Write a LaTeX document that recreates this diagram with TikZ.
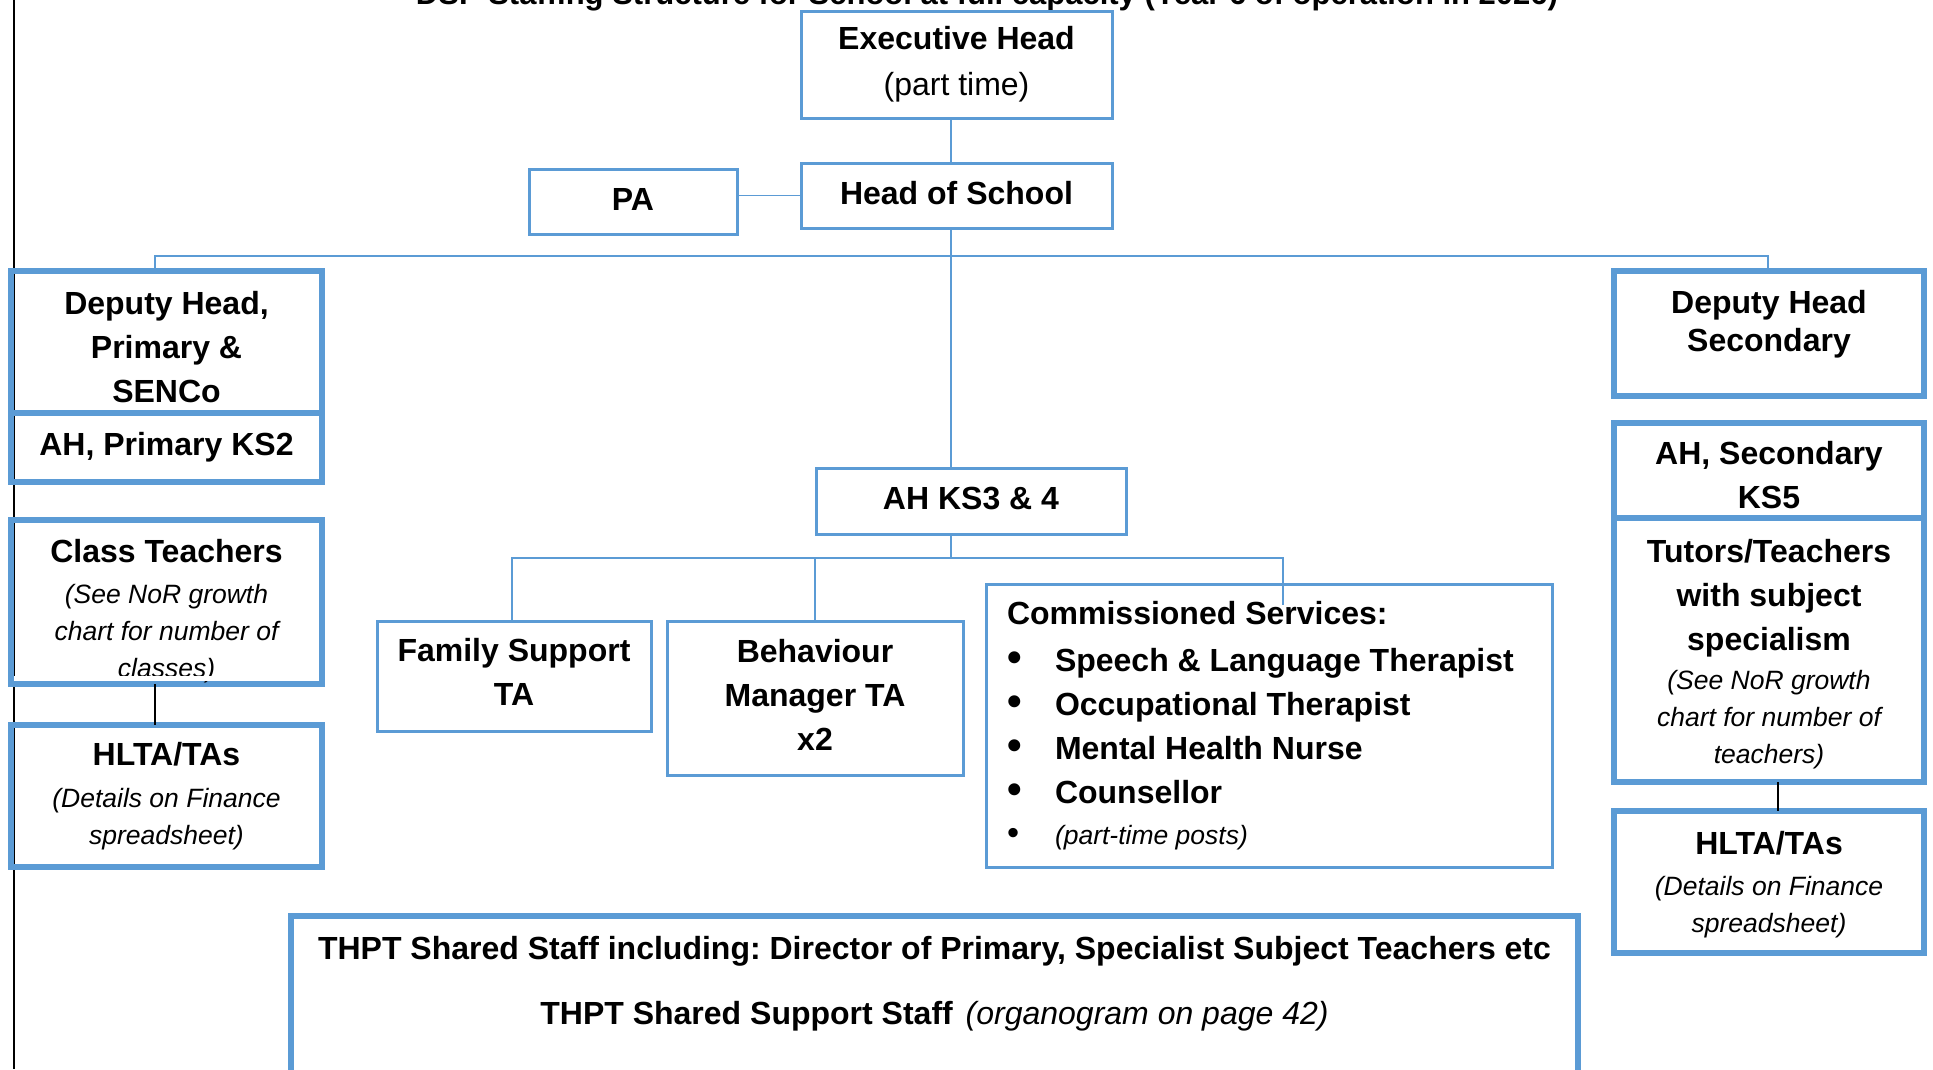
\documentclass[tikz,border=0pt]{standalone}
\usepackage{fontspec}
\usepackage{graphicx}
\setmainfont{Liberation Sans}
\usetikzlibrary{positioning}
\frenchspacing
\definecolor{postblue}{RGB}{91,155,213}
\newcommand{\note}[1]{{\fontsize{26.5}{37}\selectfont\mdseries\itshape #1}}
\newcommand{\svc}[1]{\makebox[48pt][l]{\scalebox{1.3}{\textbullet}}#1}
\tikzset{
  posttext/.style = {align=center, inner sep=0pt,
                     font=\fontsize{32}{44}\selectfont\bfseries},
  post/.style     = {posttext, shape=rectangle, draw=postblue, line width=3pt},
  keypost/.style  = {post, line width=5.5pt},
  link/.style     = {draw=postblue, line width=1.3pt},
  tie/.style      = {draw=black, line width=1.6pt}
}

\begin{document}
\begin{tikzpicture}
  [
    x                 = 1pt,
    y                 = -1pt,
    every node/.style = {outer sep=0pt}
  ]
  \useasboundingbox (0,0) rectangle (1933,1069);
  \clip (0,0) rectangle (1933,1069);
  % margin rule on the left
  \draw [black, line width=2pt] (14,0) -- (14,1069);
  \node [posttext, anchor=base, font=\fontsize{31}{40}\selectfont\bfseries] (T) at (987,4)
    {DSP Staffing Structure for School at full capacity (Year 6 of operation in 2026)};

  % heads
  \node [post, minimum width=311pt, minimum height=107pt] (E) at (956.5,64.5)
    {Executive Head\\[2pt]{\mdseries (part time)}};
  \node [post, minimum width=311pt, minimum height=65pt, below=45pt of E] (H)
    {Head of School\rule[-5pt]{0pt}{5pt}};
  \node [post, minimum width=208pt, minimum height=65pt] (PA) at (633,201.5)
    {PA\rule[-5pt]{0pt}{5pt}};

  % primary side
  \node [keypost, minimum width=311pt, minimum height=142pt] (D1) at (166.5,342)
    {\rule{0pt}{33pt}Deputy Head,\\Primary \&\\SENCo};
  \node [keypost, minimum width=311pt, minimum height=69pt, below=0pt of D1] (A1) {AH, Primary KS2};
  \node [keypost, minimum width=311pt, minimum height=164pt, below=38pt of A1] (C1)
    {\rule{0pt}{41.5pt}Class Teachers\\[-3pt]\note{(See NoR growth}\\[-7pt]\note{chart for number of}\\[-7pt]\note{classes)}};
  \node [keypost, minimum width=311pt, minimum height=142pt, below=41pt of C1] (T1)
    {HLTA/TAs\\[-2pt]\note{(Details on Finance}\\[-7pt]\note{spreadsheet)}};
  \fill [white] ([xshift=3pt,yshift=2.75pt]C1.south west) rectangle ([xshift=-3pt,yshift=8pt]C1.south east);

  % KS3 & 4
  \node [post, minimum width=310pt, minimum height=66pt] (K) at (971,501)
    {AH KS3 \& 4\rule[-5pt]{0pt}{5pt}};
  \node [post, minimum width=274pt, minimum height=110pt] (F) at (514,676)
    {Family Support\\TA\rule[-7.5pt]{0pt}{7.5pt}};
  \node [post, minimum width=296pt, minimum height=154pt] (B) at (815,698)
    {Behaviour\\Manager TA\\x2\rule[-6pt]{0pt}{6pt}};
  \node [post, align=flush left, text width=524pt, inner xsep=21pt, minimum height=283pt] (CS) at (1269,725.5)
    {Commissioned Services:\\[3pt]
     \svc{Speech \& Language Therapist}\\
     \svc{Occupational Therapist}\\
     \svc{Mental Health Nurse}\\
     \svc{Counsellor}\\[-3pt]
     {\fontsize{26.5}{37}\selectfont\mdseries\svc{\itshape (part-time posts)}}};

  % secondary side
  \node [keypost, minimum width=310pt, minimum height=125pt] (D2) at (1769,333.5) {};
  \node [posttext, below=19pt of D2.north] (D2t) {Deputy Head\\[-6pt]Secondary};
  \node [keypost, minimum width=310pt, minimum height=95pt, below=27pt of D2] (A2)
    {\rule{0pt}{33pt}AH, Secondary\\KS5};
  \node [keypost, minimum width=310pt, minimum height=264pt, below=0pt of A2] (U2)
    {\rule{0pt}{31.5pt}Tutors/Teachers\\with subject\\specialism\\[-5pt]\note{(See NoR growth}\\[-7pt]\note{chart for number of}\\[-7pt]\note{teachers)}};
  \node [keypost, minimum width=310pt, minimum height=142pt, below=29pt of U2] (T2)
    {\rule{0pt}{28.5pt}HLTA/TAs\\[-3pt]\note{(Details on Finance}\\[-7pt]\note{spreadsheet)}};

  % shared staff
  \node [keypost, minimum width=1287pt, minimum height=200pt, anchor=north] (TS) at (934.5,916) {};
  \node [posttext, below=20pt of TS.north] (TSt)
    {THPT Shared Staff including: Director of Primary, Specialist Subject Teachers etc\\[21pt]
     THPT Shared Support Staff \hspace{4pt}{\mdseries\itshape (organogram on page 42)}};

  % connectors
  \coordinate (L) at (155,256);
  \coordinate (R) at (1768,256);
  \coordinate (M) at (951,558);
  \coordinate (ML) at (512,558);
  \coordinate (MR) at (1283,558);
  \coordinate (MRend) at (1283,605);
  \draw [link] (E.south -| M) -- (H.north -| M);
  \draw [link] (H.south -| M) -- (K.north -| M);
  \draw [link] (K.south -| M) -- (M);
  \draw [link] (H.west) -- (H.west -| PA.east);
  \draw [link] (D1.north -| L) -- (L) -- (R) -- (R |- D2.north);
  \draw [link] (F.north -| ML) -- (ML) -- (MR) -- (MRend);
  \draw [link] (B.north) -- (B.north |- M);
  \draw [tie] (C1.south -| L) -- (T1.north -| L);
  \draw [tie] ([xshift=9pt]U2.south) -- ([xshift=9pt]T2.north);
\end{tikzpicture}
\end{document}
